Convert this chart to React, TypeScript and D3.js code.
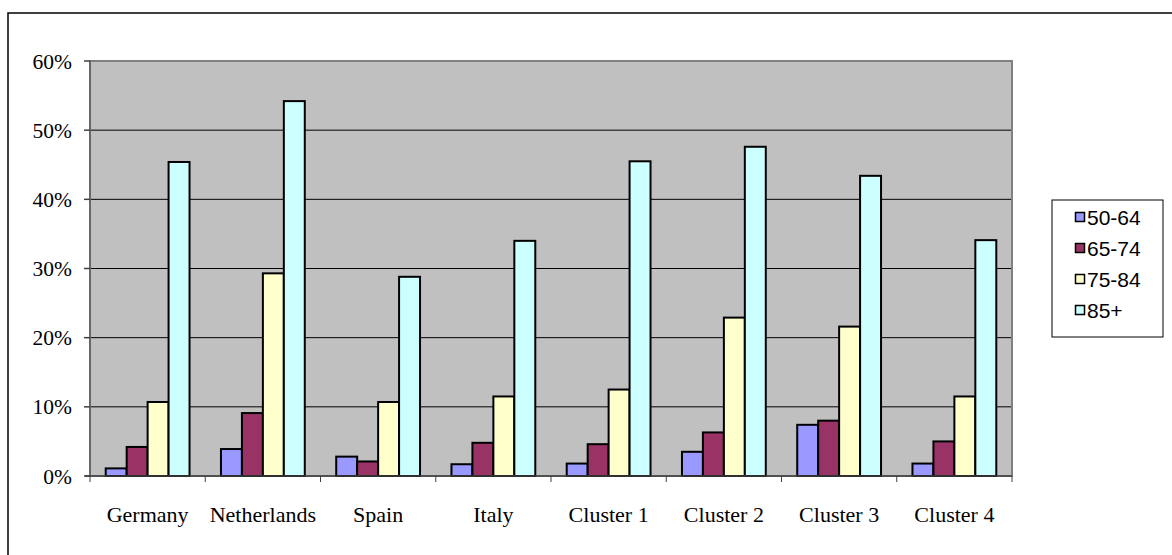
import React from "react";
import * as d3 from "d3";

const categories = ["Germany", "Netherlands", "Spain", "Italy", "Cluster 1", "Cluster 2", "Cluster 3", "Cluster 4"];
const seriesNames = ["50-64", "65-74", "75-84", "85+"];
const s5064 = [1.1, 3.9, 2.8, 1.7, 1.8, 3.5, 7.4, 1.8];
const s6574 = [4.2, 9.1, 2.1, 4.8, 4.6, 6.3, 8.0, 5.0];
const s7584 = [10.7, 29.3, 10.7, 11.5, 12.5, 22.9, 21.6, 11.5];
const s85p = [45.4, 54.2, 28.8, 34.0, 45.5, 47.6, 43.4, 34.1];
const seriesValues = [s5064, s6574, s7584, s85p];
const seriesColors = ["#9999FF", "#993366", "#FFFFCC", "#CCFFFF"];
const yTicks = [0, 10, 20, 30, 40, 50, 60];

export default function App() {
  const W = 1172, H = 555;
  const left = 90, right = 1012, top = 61, bottom = 476;
  const x0 = d3.scaleBand<string>().domain(categories).range([left, right]).padding(0);
  const bw = x0.bandwidth();
  const gap = (bw * 0.75) / 5.5;
  const x1 = d3.scaleBand<string>().domain(seriesNames).range([gap, bw - gap]).padding(0);
  const y = d3.scaleLinear().domain([0, 60]).range([bottom, top]);
  const serif = "'Liberation Serif', 'Times New Roman', serif";
  const sans = "'Liberation Sans', Arial, sans-serif";

  return (
    <svg width={W} height={H} style={{ position: "absolute", left: 0, top: 0, background: "#fff" }}>
      <rect x={8} y={13} width={1300} height={700} fill="#fff" stroke="#000" strokeWidth={1.5} />
      <rect x={left} y={top} width={right - left} height={bottom - top} fill="#C0C0C0" />
      {yTicks.slice(1, -1).map((t) => (
        <line key={t} x1={left} x2={right} y1={y(t)} y2={y(t)} stroke="#000" strokeWidth={1} />
      ))}
      <rect x={left} y={top} width={right - left} height={bottom - top} fill="none" stroke="#808080" strokeWidth={2} />
      {seriesNames.map((s, si) =>
        categories.map((c, ci) => {
          const v = seriesValues[si][ci];
          const bx = (x0(c) as number) + (x1(s) as number);
          return (
            <rect key={s + c} x={bx} y={y(v)} width={x1.bandwidth()} height={y(0) - y(v)}
              fill={seriesColors[si]} stroke="#000" strokeWidth={2} />
          );
        })
      )}
      <line x1={left} x2={left} y1={top} y2={bottom} stroke="#606060" strokeWidth={1.5} />
      <line x1={left - 5} x2={right} y1={bottom} y2={bottom} stroke="#404040" strokeWidth={1.5} />
      {yTicks.map((t) => (
        <g key={t}>
          <line x1={left - 6} x2={left} y1={y(t)} y2={y(t)} stroke="#404040" strokeWidth={1.5} />
          <text x={72} y={y(t)} dy="0.35em" textAnchor="end" fontFamily={serif} fontSize={21.5} fill="#000">{t}%</text>
        </g>
      ))}
      {categories.map((c, i) => (
        <line key={"t" + c} x1={left + i * bw} x2={left + i * bw} y1={bottom} y2={bottom + 6} stroke="#404040" strokeWidth={1} />
      ))}
      <line x1={right} x2={right} y1={bottom} y2={bottom + 6} stroke="#404040" strokeWidth={1} />
      {categories.map((c) => (
        <text key={"l" + c} x={(x0(c) as number) + bw / 2} y={522} textAnchor="middle" fontFamily={serif} fontSize={22} fill="#000">{c}</text>
      ))}
      <rect x={1052} y={200} width={111} height={137} fill="#fff" stroke="#000" strokeWidth={1} />
      {seriesNames.map((s, i) => {
        const cy = 217 + i * 31;
        return (
          <g key={"lg" + s}>
            <rect x={1075.5} y={cy - 4.5} width={9} height={9} fill={seriesColors[i]} stroke="#000" strokeWidth={1.5} />
            <text x={1087} y={cy} dy="0.36em" fontFamily={sans} fontSize={21} fill="#000">{s}</text>
          </g>
        );
      })}
    </svg>
  );
}
